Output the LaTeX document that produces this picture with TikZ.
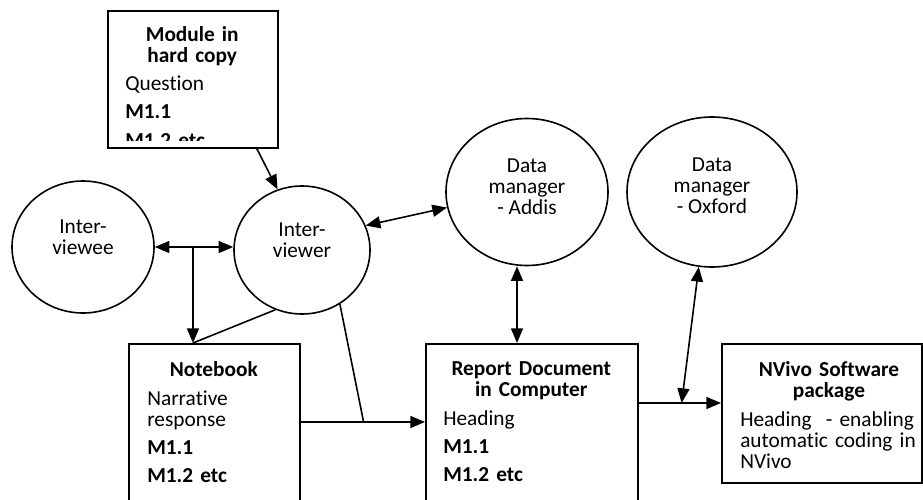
\documentclass[tikz,border=0pt]{standalone}
\usepackage{fontspec}
\setmainfont{Carlito}[Ligatures=NoCommon]
\usetikzlibrary{shapes.geometric,arrows.meta}

\newcommand{\bgap}{\par\vspace{5.5pt}}

\tikzset{
  every node/.style={font=\fontsize{16pt}{15.75pt}\selectfont},
  person/.style={draw, ellipse, line width=1.2pt, inner sep=0pt},
  stage/.style={draw, rectangle, line width=1.2pt, inner sep=0pt, anchor=north west},
  inside/.style={anchor=north west, inner sep=0pt, align=left,
    execute at begin node=\setlength{\parskip}{0pt}\raggedright},
  arr/.style={line width=1.2pt, -{Triangle[length=11pt,width=9pt]}},
  dbl/.style={line width=1.2pt, {Triangle[length=11pt,width=9pt]}-{Triangle[length=11pt,width=9pt]}},
  link/.style={line width=1.2pt},
}

\begin{document}
\begin{tikzpicture}[x=0.75pt,y=-0.75pt]
    \useasboundingbox (0,0) rectangle (923,499);
    \clip (0,0) rectangle (923,499);

    % People and data managers
    \node[person, minimum width=106.5pt, minimum height=99pt] (ee) at (83,247) {};
    \node[align=center, inner sep=0pt] (eetxt) at ([yshift=7.5pt]ee.center) {Inter-\\viewee};
    \node[person, minimum width=102pt, minimum height=96pt] (ier) at (302,250) {};
    \node[align=center, inner sep=0pt] (iertxt) at ([yshift=7.5pt]ier.center) {Inter-\\viewer};
    \node[person, minimum width=121.5pt, minimum height=110.25pt] (dma) at (527,192) {};
    \node[align=center, inner sep=0pt] (dmatxt) at ([yshift=4pt]dma.center) {Data\\manager\\- Addis};
    \node[person, minimum width=127.5pt, minimum height=112.5pt] (dmo) at (712,192) {};
    \node[align=center, inner sep=0pt] (dmotxt) at ([yshift=4.5pt]dmo.center) {Data\\manager\\- Oxford};

    % Module in hard copy (text cut off inside the box)
    \node[stage, minimum width=127.5pt, minimum height=102.75pt] (mod) at (107,10) {};
    \begin{scope}
      \clip (mod.north west) rectangle ([yshift=6pt]mod.south east);
      \node[inside, text width=100.5pt] (modtxt) at ([xshift=13.5pt,yshift=-12pt]mod.north west)
        {{\centering\bfseries Module in\par hard copy\par}\vspace{5.5pt}
         Question\bgap
         \textbf{M1.1}\bgap
         \textbf{M1.2 etc}};
    \end{scope}
    \node[stage, minimum width=127.5pt, minimum height=102.75pt] (modbox) at (107,10) {};

    % Notebook
    \node[stage, minimum width=128.25pt, minimum height=135pt] (nb) at (128,343) {};
    \node[inside, text width=99.75pt] (nbtxt) at ([xshift=14.25pt,yshift=-14pt]nb.north west)
      {{\centering\bfseries Notebook\par}\vspace{5.5pt}
       Narrative\par response\bgap
       \textbf{M1.1}\bgap
       \textbf{M1.2 etc}};

    % Report document
    \node[stage, minimum width=159pt, minimum height=135pt] (rep) at (425,343) {};
    \node[inside, text width=132pt] (reptxt) at ([xshift=13.5pt,yshift=-14pt]rep.north west)
      {{\centering\bfseries Report Document\par in Computer\par}\vspace{5.5pt}
       Heading\bgap
       \textbf{M1.1}\bgap
       \textbf{M1.2 etc}};

    % NVivo
    \node[stage, minimum width=150pt, minimum height=104.25pt] (nv) at (721,343) {};
    \node[inside, text width=133pt] (nvtxt) at ([xshift=14.25pt,yshift=-14pt]nv.north west)
      {{\centering\bfseries NVivo Software\par package\par}\vspace{5.5pt}
       Heading~ - enabling\par automatic coding in\par NVivo};

    % Helper points on the connectors
    \coordinate (nbtop) at ([xshift=-16pt]nb.north);
    \coordinate (nbout) at ([yshift=-59.25pt]nb.north east);
    \coordinate (jn) at ([xshift=47.25pt]nbout);
    \coordinate (repout) at ([yshift=-45pt]rep.north east);
    \coordinate (jn2) at ([xshift=32.25pt]repout);

    % Connectors
    \draw[arr] ([xshift=48pt]mod.south) -- (ier.112);
    \draw[dbl] (ee.east) -- (ee.east -| ier.west);
    \draw[arr] (nbtop |- ee.east) -- (nbtop);
    \draw[link] (ier.246) -- (nbtop);
    \draw[link] (ier.305) -- (jn);
    \draw[arr] (nbout) -- (nbout -| rep.west);
    \draw[dbl] (ier.21) -- (dma.191);
    \draw[dbl] ([xshift=-7.5pt]dma.south) -- ([xshift=-7.5pt]dma.south |- rep.north);
    \draw[arr] (repout) -- (repout -| nv.west);
    \draw[dbl] (dmo.260) -- (jn2);
\end{tikzpicture}
\end{document}
